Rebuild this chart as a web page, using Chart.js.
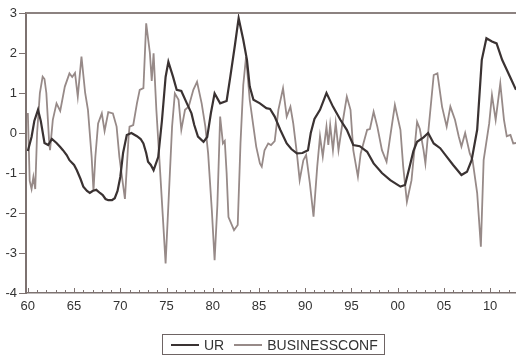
<!DOCTYPE html>
<html>
<head>
<meta charset="utf-8">
<script src="https://cdn.jsdelivr.net/npm/chart.js@4.4.1/dist/chart.umd.min.js"></script>
<style>
  body { margin: 0; background: #fff; }
  #wrap { position: relative; width: 516px; height: 357px; }
  #legend {
    position: absolute; left: 162px; top: 334px; width: 223px; height: 21px;
    border: 1px solid #6e6464; font: 14px "Liberation Sans", Arial, sans-serif; color: #333;
    display: flex; align-items: center; padding-left: 8px; box-sizing: border-box;
  }
  #legend .ln { display: inline-block; width: 28px; height: 2px; margin-right: 5px; }
  #legend span.t { margin-right: 10px; }
</style>
</head>
<body>
<div id="wrap">
  <canvas id="chart" width="516" height="357"></canvas>
  <div id="legend">
    <i class="ln" style="background:#3a3232"></i><span class="t">UR</span>
    <i class="ln" style="background:#978a88"></i><span>BUSINESSCONF</span>
  </div>
</div>
<script>
// UR series (year, value)
const urYears = [1960.0, 1960.4, 1960.7, 1961.1, 1961.4, 1961.8, 1962.2, 1962.6, 1963.1, 1963.5, 1963.8,
  1964.2, 1964.5, 1965.0, 1965.3, 1965.7, 1966.0, 1966.4, 1966.7, 1967.0, 1967.4, 1967.8, 1968.1, 1968.4,
  1968.7, 1969.1, 1969.4, 1969.7, 1970.0, 1970.3, 1970.7, 1971.2, 1971.8, 1972.2, 1972.5, 1972.8, 1973.0,
  1973.3, 1973.6, 1974.1, 1974.5, 1974.9, 1975.2, 1975.7, 1976.1, 1976.6, 1977.2, 1977.7, 1978.0, 1978.4,
  1979.0, 1979.4, 1979.8, 1980.2, 1980.8, 1981.5, 1981.9, 1982.4, 1982.8, 1983.3, 1983.7, 1984.0, 1984.4,
  1985.1, 1985.8, 1986.2, 1986.7, 1987.3, 1988.0, 1988.5, 1989.1, 1989.7, 1990.3, 1990.6, 1991.0, 1991.6,
  1992.3, 1993.0, 1993.8, 1994.5, 1995.2, 1995.9, 1996.7, 1997.4, 1998.3, 1999.2, 2000.3, 2000.8, 2001.3,
  2001.7, 2002.1, 2002.8, 2003.3, 2003.9, 2004.6, 2005.3, 2006.0, 2006.9, 2007.5, 2008.0, 2008.6, 2009.1,
  2009.6, 2010.2, 2010.7, 2011.3, 2011.8, 2012.3, 2012.8];
const urValues = [-0.45, -0.1, 0.3, 0.58, 0.3, -0.25, -0.3, -0.15, -0.25, -0.35, -0.43,
  -0.55, -0.68, -0.8, -0.93, -1.15, -1.34, -1.45, -1.5, -1.45, -1.42, -1.5, -1.55, -1.65,
  -1.68, -1.68, -1.63, -1.45, -1.1, -0.5, -0.05, 0.0, -0.08, -0.15, -0.26, -0.5, -0.72,
  -0.8, -0.93, -0.6, 0.3, 1.4, 1.78, 1.41, 1.08, 1.05, 0.74, 0.49, 0.2, -0.09,
  -0.22, -0.1, 0.5, 0.99, 0.74, 0.8, 1.41, 2.2, 2.87, 2.33, 1.83, 1.16, 0.83,
  0.74, 0.62, 0.6, 0.41, 0.08, -0.26, -0.4, -0.51, -0.5, -0.43, 0.0, 0.35, 0.58,
  1.0, 0.66, 0.33, 0.08, -0.3, -0.33, -0.47, -0.76, -1.0, -1.18, -1.34, -1.3, -0.84,
  -0.45, -0.22, -0.11, 0.0, -0.26, -0.38, -0.59, -0.8, -1.05, -0.97, -0.68, 0.08, 1.83,
  2.37, 2.29, 2.24, 1.83, 1.58, 1.33, 1.08];

// BUSINESSCONF series (year, value)
const bcYears = [1960.0, 1960.2, 1960.4, 1960.6, 1960.8, 1961.0, 1961.3, 1961.6, 1961.8, 1962.0, 1962.3,
  1962.4, 1962.7, 1963.1, 1963.5, 1964.0, 1964.5, 1964.8, 1965.1, 1965.4, 1965.8, 1966.2, 1966.5, 1966.9,
  1967.1, 1967.3, 1967.6, 1968.0, 1968.3, 1968.7, 1969.2, 1969.6, 1969.9, 1970.3, 1970.5, 1970.9, 1971.0,
  1971.4, 1971.8, 1972.1, 1972.5, 1972.8, 1973.2, 1973.4, 1973.6, 1973.9, 1974.3, 1974.6, 1974.9, 1975.2,
  1975.6, 1975.9, 1976.3, 1976.6, 1977.0, 1977.4, 1977.9, 1978.3, 1978.8, 1979.2, 1979.5, 1979.9, 1980.2,
  1980.5, 1980.8, 1981.1, 1981.3, 1981.5, 1981.7, 1982.3, 1982.7, 1983.0, 1983.3, 1983.6, 1984.0, 1984.4,
  1984.7, 1985.1, 1985.3, 1985.6, 1986.0, 1986.3, 1986.7, 1987.1, 1987.6, 1988.0, 1988.4, 1988.7, 1989.1,
  1989.4, 1989.8, 1990.1, 1990.5, 1990.9, 1991.3, 1991.6, 1991.9, 1992.3, 1992.5, 1992.7, 1993.0, 1993.3,
  1993.6, 1994.0, 1994.5, 1994.9, 1995.2, 1995.7, 1996.0, 1996.7, 1997.0, 1997.4, 1997.8, 1998.3, 1998.8,
  1999.2, 1999.7, 2000.3, 2000.6, 2001.0, 2001.5, 2002.1, 2002.4, 2002.8, 2003.0, 2003.3, 2003.9, 2004.3,
  2004.8, 2005.3, 2005.7, 2006.2, 2006.6, 2006.9, 2007.3, 2007.8, 2008.1, 2008.6, 2009.0, 2009.3, 2009.9,
  2010.2, 2010.6, 2011.1, 2011.5, 2011.8, 2012.2, 2012.5, 2012.8];
const bcValues = [0.5, -1.2, -1.4, -1.1, -1.4, 0.0, 1.0, 1.41, 1.35, 1.0, -0.2,
  -0.43, 0.33, 0.74, 0.55, 1.16, 1.49, 1.4, 1.5, 0.91, 1.91, 1.0, 0.58, -0.6,
  -1.45, -0.6, 0.24, 0.49, 0.05, 0.52, 0.49, 0.16, -0.6, -1.3, -1.65, -0.08, 0.16,
  0.2, 0.74, 1.08, 1.12, 2.74, 2.0, 1.3, 1.99, 0.58, -0.93, -2.09, -3.26, -1.8,
  0.16, 0.99, 0.83, 0.08, 0.58, 0.66, 1.08, 1.28, 0.74, 0.16, -0.51, -1.93, -3.18,
  -1.8, 0.41, -0.26, -0.2, -1.0, -2.1, -2.43, -2.3, -0.26, 1.2, 1.9, 0.83, 0.16,
  -0.34, -0.76, -0.84, -0.43, -0.26, -0.3, -0.2, 0.58, 1.12, 0.41, 0.66, 0.25, -0.51,
  -1.18, -0.68, -0.55, -1.25, -2.09, -0.84, -0.08, -0.59, 0.16, -0.3, 0.2, -0.43, 0.25,
  -0.43, 0.2, 0.91, 0.58, -0.43, -1.09, -0.51, 0.08, 0.1, 0.53, 0.16, -0.43, -0.72,
  -0.08, 0.7, 0.08, -0.84, -1.72, -1.18, 0.28, 0.1, -0.43, -0.76, 0.0, 1.45, 1.49,
  0.66, 0.16, 0.66, 0.33, -0.08, -0.34, 0.0, -0.51, -0.68, -1.5, -2.84, -0.68, 0.24,
  0.95, 0.33, 1.24, 0.33, -0.08, -0.05, -0.26, -0.25];

// labelled years on the x axis
const xTickYears = [1960, 1965, 1970, 1975, 1980, 1985, 1990, 1995, 2000, 2005, 2010];
const xMin = 1959.8, xMax = 2012.8;
const axisColor = '#7d7270';
const tickFont = { family: '"Liberation Sans", Arial, sans-serif', size: 13 };

// inward yearly ticks on the x axis + top frame line
const framePlugin = {
  id: 'frame',
  afterDraw(chart) {
    const { ctx, chartArea, scales } = chart;
    ctx.save();
    ctx.strokeStyle = axisColor;
    ctx.lineWidth = 1;
    for (let yr = 1960; yr <= 2012; yr++) {
      const px = Math.round(scales.x.getPixelForValue(yr)) + 0.5;
      ctx.beginPath();
      ctx.moveTo(px, chartArea.bottom);
      ctx.lineTo(px, chartArea.bottom - (yr % 5 === 0 ? 5 : 3));
      ctx.stroke();
    }
    ctx.lineWidth = 2;
    ctx.strokeStyle = '#8c8280';
    ctx.beginPath();
    ctx.moveTo(chartArea.left, chartArea.top);
    ctx.lineTo(chart.width, chartArea.top);
    ctx.stroke();
    ctx.restore();
  }
};

new Chart(document.getElementById('chart'), {
  type: 'line',
  data: {
    datasets: [
      {
        label: 'UR',
        data: urYears.map((x, i) => ({ x, y: urValues[i] })),
        borderColor: '#3a3232',
        borderWidth: 2.2,
        pointRadius: 0,
        tension: 0
      },
      {
        label: 'BUSINESSCONF',
        data: bcYears.map((x, i) => ({ x, y: bcValues[i] })),
        borderColor: '#978a88',
        borderWidth: 1.8,
        pointRadius: 0,
        tension: 0
      }
    ]
  },
  options: {
    responsive: false,
    animation: false,
    layout: { padding: { top: 13, right: 0, left: 0, bottom: 0 } },
    plugins: { legend: { display: false }, tooltip: { enabled: false } },
    scales: {
      x: {
        type: 'linear',
        min: xMin,
        max: xMax,
        afterBuildTicks(s) { s.ticks = xTickYears.map(v => ({ value: v })); },
        afterFit(s) { s.height = 64; s.paddingRight = 0; s.paddingLeft = 0; },
        border: { color: axisColor, width: 1.5 },
        grid: { display: false, drawTicks: false },
        ticks: {
          autoSkip: false,
          maxRotation: 0,
          padding: 6,
          color: '#333',
          font: tickFont,
          callback: v => String(v % 100).padStart(2, '0')
        }
      },
      y: {
        min: -4,
        max: 3,
        afterFit(s) { s.width = 26; },
        border: { color: axisColor, width: 2 },
        grid: { drawOnChartArea: false, drawTicks: true, tickLength: 7, color: axisColor },
        ticks: { stepSize: 1, padding: 2, color: '#333', font: tickFont }
      }
    }
  },
  plugins: [framePlugin]
});
</script>
</body>
</html>
